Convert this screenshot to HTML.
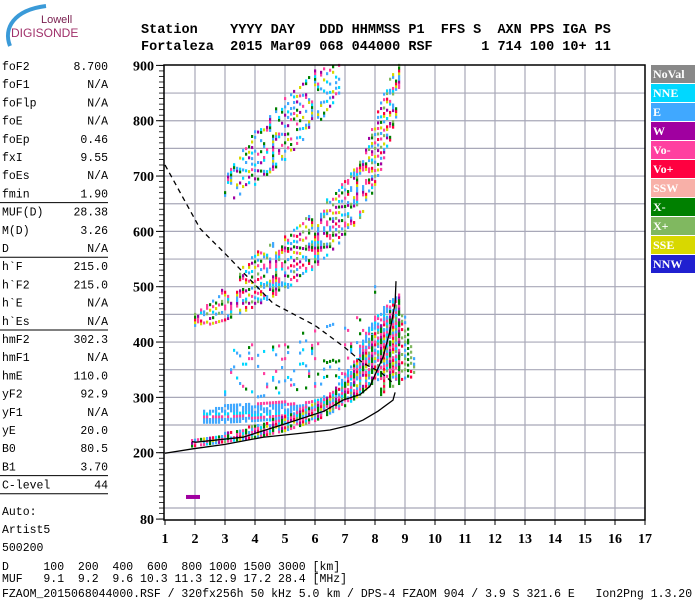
<!DOCTYPE html>
<html><head><meta charset="utf-8"><style>
html,body{margin:0;padding:0;background:#fff;}
svg{display:block;}
.m{font-family:"Liberation Mono",monospace;font-size:11.5px;fill:#000;}
.h{font-family:"Liberation Mono",monospace;font-size:13.5px;font-weight:bold;fill:#000;white-space:pre;}
.t{font-family:"Liberation Serif",serif;font-size:14px;font-weight:bold;fill:#000;}
.lg{font-family:"Liberation Serif",serif;font-size:12px;font-weight:bold;fill:#fff;}
</style></head><body>
<svg id="chart" width="700" height="600" viewBox="0 0 700 600" xmlns="http://www.w3.org/2000/svg">
<g>
<path d="M10,46 C3,28 14,10 46,6" stroke="#3a9ad8" stroke-width="4" fill="none"/>
<text x="41" y="23" font-family="Liberation Sans,sans-serif" font-size="11" fill="#7a2050">Lowell</text>
<text x="11" y="37" font-family="Liberation Sans,sans-serif" font-size="12" fill="#a0306a">DIGISONDE</text>
</g>
<text class="h" x="141" y="33">Station    YYYY DAY   DDD HHMMSS P1  FFS S  AXN PPS IGA PS</text>
<text class="h" x="141" y="50">Fortaleza  2015 Mar09 068 044000 RSF      1 714 100 10+ 11</text>
<g id="params"></g>
<g id="grid"></g>
<g id="echoes"></g>
<g id="lines"></g>
<rect x="164" y="65" width="481" height="455" fill="none" stroke="#000" stroke-width="1.5"/>
<g id="axes"></g>
<g id="legend"></g>
<text class="m" x="2" y="570" xml:space="preserve">D     100  200  400  600  800 1000 1500 3000 [km]</text>
<text class="m" x="2" y="582" xml:space="preserve">MUF   9.1  9.2  9.6 10.3 11.3 12.9 17.2 28.4 [MHz]</text>
<text class="m" x="2" y="597" xml:space="preserve" font-size="10.5">FZAOM_2015068044000.RSF / 320fx256h 50 kHz 5.0 km / DPS-4 FZAOM 904 / 3.9 S 321.6 E   Ion2Png 1.3.20</text>
</svg>
<script>
const NS="http://www.w3.org/2000/svg";
const xTicks=[1,2,3,4,5,6,7,8,9,10,11,12,13,14,15,16,17];
const yTicks=[80,200,300,400,500,600,700,800,900];
// echo bands: frequency, lower height, upper height
const f1Freq=[1.9,3,4,5,6,7,7.5,8,8.5,8.8];
const f1Low=[212,220,228,240,258,285,305,330,340,330];
const f1High=[225,235,250,268,290,330,380,420,460,490];
const eFreq=[2.3,3,4,5,5.8,6.5,7.2,7.8,8.4,8.7];
const eLow=[255,255,258,262,266,275,320,345,360,370];
const eHigh=[275,285,290,292,295,300,360,430,470,480];
const sFreq=[3,4,5,6,7,8];
const sLow=[300,300,310,320,340,400];
const sHigh=[380,400,410,420,440,500];
const xFreq=[8.2,8.6,9.0,9.3];
const xLow=[300,320,330,340];
const xHigh=[400,450,450,380];
const f2Freq=[2,3,4,5,6,7,7.5,8,8.5,8.8];
const f2Low=[425,440,465,495,535,590,625,680,760,830];
const f2High=[450,500,560,590,640,690,730,800,880,900];
const f3Freq=[3,4,5,6,6.8];
const f3Low=[650,685,730,790,840];
const f3High=[700,780,840,890,900];
// model curves
const profF=[1.0,1.93,3,4.27,5.5,6.5,7.2,7.6,8.1,8.6,8.67];
const profH=[199,207,215,228,235,241,250,259,275,295,309];
const traceF=[1.9,2.03,3.6,5.17,6.3,6.93,7.5,7.83,8.27,8.5,8.67,8.7];
const traceH=[220,219,228,255,275,295,305,320,373,420,470,510];
const mufF=[1.0,2.17,3,4.6,6,7,7.6,8.2,8.6];
const mufH=[720,605,560,470,430,390,362,345,326];
const params=[["foF2","8.700"],["foF1","N/A"],["foFlp","N/A"],["foE","N/A"],["foEp","0.46"],["fxI","9.55"],["foEs","N/A"],["fmin","1.90"],null,["MUF(D)","28.38"],["M(D)","3.26"],["D","N/A"],null,["h`F","215.0"],["h`F2","215.0"],["h`E","N/A"],["h`Es","N/A"],null,["hmF2","302.3"],["hmF1","N/A"],["hmE","110.0"],["yF2","92.9"],["yF1","N/A"],["yE","20.0"],["B0","80.5"],["B1","3.70"],null,["C-level","44"],"gap",["Auto:",""],["Artist5",""],["500200",""]];
const legendNames=["NoVal","NNE","E","W","Vo-","Vo+","SSW","X-","X+","SSE","NNW"];
const legendColors=["#888888","#00d8ff","#40a8ff","#a000a0","#ff40a0","#ff0040","#f8b0a8","#008000","#80b860","#d8d800","#2020d0"];

const X=f=>165+(f-1)*30;
const Y=h=>452.7-(h-200)*0.5533;
function mk(tag,attrs,parent){const e=document.createElementNS(NS,tag);for(const k in attrs)e.setAttribute(k,attrs[k]);parent.appendChild(e);return e;}
function interp(fs,hs,f){for(let i=0;i<fs.length-1;i++){if(f>=fs[i]-1e-9&&f<=fs[i+1]+1e-9){const t=(f-fs[i])/(fs[i+1]-fs[i]);return hs[i]+t*(hs[i+1]-hs[i]);}}return null;}

// params panel
const pg=document.getElementById('params');
let py=70;
params.forEach(p=>{
 if(p==="gap"){const l=mk('line',{x1:0,x2:108,y1:py-13,y2:py-13,stroke:'#000','stroke-width':1},pg);
  
  
  py+=8;return;}
 if(p===null){const l=mk('line',{x1:0,x2:108,y1:py-13,y2:py-13,stroke:'#000','stroke-width':1},pg);
  
  
  return;}
 const a=mk('text',{x:2,y:py,class:'m'},pg);a.textContent=p[0];
 
 
 if(p[1]){const b=mk('text',{x:108,y:py,class:'m','text-anchor':'end'},pg);b.textContent=p[1];
  
  }
 py+=18.2;
});

// grid
const gg=document.getElementById('grid');
xTicks.forEach(f=>{if(f>1&&f<17){const l=mk('line',{x1:X(f),x2:X(f),y1:65,y2:520,stroke:'#a8a8b8','stroke-width':1.2},gg);
 
 }});
for(let h=200;h<900;h+=50){const l=mk('line',{x1:164,x2:645,y1:Y(h),y2:Y(h),stroke:'#a8a8b8','stroke-width':1.2},gg);
 
 }
{const l=mk('line',{x1:164,x2:645,y1:Y(100),y2:Y(100),stroke:'#a8a8b8','stroke-width':1.2},gg);
 
 }

// axes
const ag=document.getElementById('axes');
xTicks.forEach(f=>{const t=mk('text',{x:X(f),y:543,class:'t','text-anchor':'middle'},ag);t.textContent=f;
 
 
 mk('line',{x1:X(f),x2:X(f),y1:520,y2:525,stroke:'#000'},ag);});
yTicks.forEach(h=>{const t=mk('text',{x:154,y:Y(h)+5,class:'t','text-anchor':'end'},ag);t.textContent=h;
 
 
 mk('line',{x1:156,x2:164,y1:Y(h),y2:Y(h),stroke:'#000'},ag);});
for(let h=80;h<=900;h+=10){mk('line',{x1:159,x2:164,y1:Y(h),y2:Y(h),stroke:'#000','stroke-width':0.8},ag);}

// echoes
const eg=document.getElementById('echoes');
const pal=["#ff40a0","#ff0040","#008000","#40a8ff","#ff40a0","#008000","#80b860","#40a8ff","#a000a0","#00d8ff","#d8d800","#ff40a0"];
function band(fs,lo,hi,density,colors,seed){
 for(let f=fs[0];f<=fs[fs.length-1]+1e-6;f+=0.1){
  const a=interp(fs,lo,f),b=interp(fs,hi,f);if(a===null)continue;
  const i=Math.round(f*10)+seed;
  for(let h=a;h<=b;h+=5){const j=Math.round(h/5);
   const v=((i*73+j*151+i*j*7)%97)/97;
   if(v>density)continue;
   const c=colors[(i*5+j*3)%colors.length];
   const r=mk('rect',{x:X(f)-1,y:Y(h)-1.5,width:2.2,height:3,fill:c},eg);
   
   
  }}
}
band(sFreq,sLow,sHigh,0.12,["#40a8ff","#00d8ff","#ff40a0","#40a8ff","#008000"],3);
band(eFreq,eLow,eHigh,0.8,["#40a8ff","#40a8ff","#00d8ff","#40a8ff","#ff40a0"],0);
band(xFreq,xLow,xHigh,0.5,["#008000","#80b860","#ff0040","#008000","#40a8ff","#80b860"],5);
band(f1Freq,f1Low,f1High,0.85,pal,0);
band(f2Freq,f2Low,f2High,0.45,["#40a8ff","#ff40a0","#008000","#40a8ff","#ff40a0","#80b860","#d8d800","#a000a0","#00d8ff","#ff0040"],1);
band(f3Freq,f3Low,f3High,0.3,["#40a8ff","#ff40a0","#008000","#d8d800","#a000a0","#00d8ff","#40a8ff"],2);
{const r=mk('rect',{x:X(1.7),y:Y(120)-2,width:14,height:4,fill:'#a000a0'},eg);
 
 }

// lines
const lg=document.getElementById('lines');
function poly(fs,hs,dash,name){const p=mk('polyline',{points:fs.map((f,i)=>X(f)+','+Y(hs[i])).join(' '),fill:'none',stroke:'#000','stroke-width':1.3},lg);
 if(dash)p.setAttribute('stroke-dasharray',dash);
 
 }
poly(profF,profH,null,'density-profile-line');
poly(traceF,traceH,null,'o-trace-line');
poly(mufF,mufH,'5,4','muf-curve');

// legend
const leg=document.getElementById('legend');
legendNames.forEach((n,i)=>{const y=65+i*19;
 const r=mk('rect',{x:651,y:y,width:44,height:18,fill:legendColors[i]},leg);
 
 
 const t=mk('text',{x:653,y:y+13,class:'lg'},leg);t.textContent=n;
 
 });
</script>
</body></html>
